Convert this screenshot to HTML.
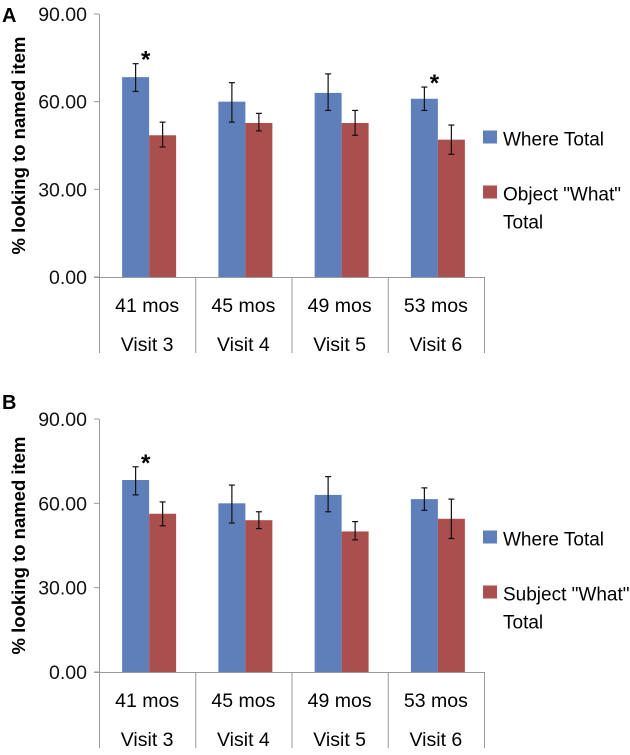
<!DOCTYPE html>
<html><head><meta charset="utf-8"><style>
body{margin:0;background:#fff;}
svg{display:block;font-family:"Liberation Sans",sans-serif;}
</style></head><body>
<svg id="c" width="630" height="755"></svg>
<script>
const categories=["41 mos","45 mos","49 mos","53 mos"];
const visits=["Visit 3","Visit 4","Visit 5","Visit 6"];
const yTicks=[0,30,60,90];
const tickLabels=["0.00","30.00","60.00","90.00"];
const aWhere=[68.4,60,63,61];
const aWhereLo=[63.5,53,57,57];
const aWhereHi=[73,66.5,69.5,65];
const aWhat=[48.5,52.7,52.7,47];
const aWhatLo=[44.5,50,48.5,42];
const aWhatHi=[53,56,57,52];
const aStar=[true,false,false,true];
const bWhere=[68.3,60,63,61.5];
const bWhereLo=[63,53,57,57.5];
const bWhereHi=[73,66.5,69.5,65.5];
const bWhat=[56.3,54,50,54.5];
const bWhatLo=[52,51,47,47.5];
const bWhatHi=[60.5,57,53.5,61.5];
const bStar=[true,false,false,false];

const NS="http://www.w3.org/2000/svg";
const svg=document.getElementById('c');
function mk(t,a,p){const e=document.createElementNS(NS,t);for(const k in a)e.setAttribute(k,a[k]);(p||svg).appendChild(e);return e;}

function panel(letter,top,bottom,where,wLo,wHi,what,tLo,tHi,star,whatName,prefix){
  const g=mk('g',{});
  
  
  const x0=99,cw=96.25;
  const y=v=>bottom-(v/90)*(bottom-top);
  const L=mk('text',{x:2,y:top+(letter==='A'?8:-10),'font-size':20,'font-weight':'bold'},g);L.textContent=letter;
  
  
  mk('line',{x1:x0+0.5,y1:top,x2:x0+0.5,y2:bottom,stroke:'#999','stroke-width':1},g);
  yTicks.forEach((t,i)=>{
    mk('line',{x1:x0-5,y1:y(t),x2:x0,y2:y(t),stroke:'#999'},g);
    const tx=mk('text',{x:x0-12,y:y(t)+7,'font-size':19.5,'text-anchor':'end',fill:'#111'},g);
    tx.textContent=tickLabels[i];
    
    
  });
  const yt=mk('text',{transform:`translate(25,${(top+bottom)/2}) rotate(-90)`,'font-size':18.5,'font-weight':'bold','text-anchor':'middle'},g);
  yt.textContent='% looking to named item';
  
  
  mk('line',{x1:x0-5,y1:bottom+0.5,x2:x0+cw*4,y2:bottom+0.5,stroke:'#999'},g);
  for(let i=0;i<=4;i++) mk('line',{x1:x0+cw*i+0.5,y1:bottom,x2:x0+cw*i+0.5,y2:bottom+76,stroke:'#999'},g);
  categories.forEach((c,i)=>{
    const cx=x0+cw*(i+0.5);
    const t1=mk('text',{x:cx,y:bottom+35,'font-size':19.5,'text-anchor':'middle'},g);t1.textContent=c;
    
    
    const t2=mk('text',{x:cx,y:bottom+74,'font-size':19.5,'text-anchor':'middle'},g);t2.textContent=visits[i];
    
    
    const bw=27;
    const bx=cx-bw+2;
    const r1=mk('rect',{x:bx,y:y(where[i]),width:bw,height:bottom-y(where[i]),fill:'#5F7FBB'},g);
    
    
    const r2=mk('rect',{x:bx+bw,y:y(what[i]),width:bw,height:bottom-y(what[i]),fill:'#AA4F4D'},g);
    
    
    [[bx+bw/2,wLo[i],wHi[i]],[bx+bw*1.5,tLo[i],tHi[i]]].forEach(e=>{
      mk('line',{x1:e[0],y1:y(e[1]),x2:e[0],y2:y(e[2]),stroke:'#111','stroke-width':1.2},g);
      mk('line',{x1:e[0]-3,y1:y(e[1]),x2:e[0]+3,y2:y(e[1]),stroke:'#111','stroke-width':1.2},g);
      mk('line',{x1:e[0]-3,y1:y(e[2]),x2:e[0]+3,y2:y(e[2]),stroke:'#111','stroke-width':1.2},g);
    });
    if(star[i]){
      const s=mk('text',{x:bx+bw/2+10,y:y(wHi[i])+4,'font-size':24,'font-weight':'bold','text-anchor':'middle'},g);
      s.textContent='*';
      
      
    }
  });
  const ly=top+(bottom-top)*0.5;
  const lg=mk('g',{},g);
  
  
  mk('rect',{x:483,y:ly-15,width:14,height:13,fill:'#5F7FBB'},lg);
  const l1=mk('text',{x:503,y:ly,'font-size':19},lg);l1.textContent='Where Total';
  
  
  mk('rect',{x:483,y:ly+40,width:14,height:13,fill:'#AA4F4D'},lg);
  const l2=mk('text',{x:503,y:ly+55,'font-size':19},lg);l2.textContent=whatName+' "What"';
  
  
  const l3=mk('text',{x:503,y:ly+83,'font-size':19},lg);l3.textContent='Total';
}
panel('A',14,277,aWhere,aWhereLo,aWhereHi,aWhat,aWhatLo,aWhatHi,aStar,'Object','a');
panel('B',419,672,bWhere,bWhereLo,bWhereHi,bWhat,bWhatLo,bWhatHi,bStar,'Subject','b');
</script>
</body></html>
